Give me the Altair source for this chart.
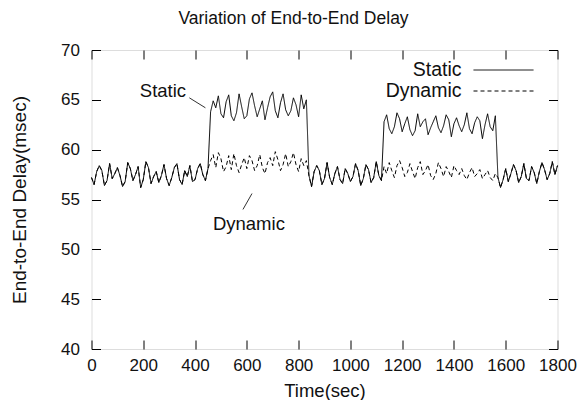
import altair as alt
import pandas as pd

# ---- data (one sample every 10 s) ----
times = list(range(0, 1801, 10))

static_base1 = [57.2, 56.5, 57.8, 58.4, 57.9, 56.4, 56.9, 58.6, 57.1, 57.6,
                58.2, 57.4, 56.3, 56.8, 58.7, 58.1, 56.9, 57.5, 58.3, 56.2,
                57.0, 58.8, 58.2, 56.6, 57.3, 57.8, 56.7, 57.4, 58.5, 57.1,
                56.4, 57.2, 58.2, 58.6, 57.0, 56.5, 57.9, 57.3, 58.4, 56.8,
                57.0, 58.1, 58.6, 57.5, 56.9, 58.1]
static_high1 = [63.8, 64.9, 64.2, 65.4, 63.6, 63.2, 64.8, 65.5, 63.4, 62.9,
                63.7, 65.6, 64.3, 63.1, 63.4, 65.1, 65.7, 64.4, 63.3, 64.1,
                64.9, 63.0, 64.2, 65.3, 65.8, 63.9, 63.2, 64.7, 65.6, 64.0,
                63.4, 63.9, 65.2, 64.5, 63.3, 65.5, 64.1, 65.0]
static_base2 = [57.4, 56.3, 57.8, 58.4, 57.9, 56.5, 57.1, 58.7, 57.2, 56.5,
                57.6, 58.3, 57.0, 56.6, 58.1, 57.6, 56.8, 57.3, 58.6, 57.9,
                56.4, 57.1, 58.5, 58.0, 56.7, 57.2, 58.8, 57.4, 56.9]
static_high2 = [62.8, 63.5, 62.1, 61.6, 62.3, 63.7, 63.1, 61.8, 62.6, 63.3,
                62.0, 61.4, 61.9, 63.6, 62.3, 62.8, 63.1, 61.5, 62.2, 62.8,
                63.4, 62.2, 61.7, 62.4, 63.5, 63.0, 61.3, 62.6, 63.2, 62.4,
                61.8, 62.5, 63.7, 62.1, 61.6, 62.7, 63.3, 62.9, 61.1, 62.5,
                63.6, 62.3, 61.9, 63.4]
static_base3 = [57.2, 56.2, 57.0, 58.1, 56.8, 57.6, 58.5, 57.9, 56.7, 57.3,
                58.6, 57.1, 56.9, 58.3, 57.7, 56.6, 57.8, 58.7, 58.0, 57.0,
                57.6, 58.8, 57.5, 58.4]
dynamic_mid1 = [58.9, 59.5, 58.2, 59.7, 59.1, 57.8, 58.3, 59.4, 58.0, 59.6,
                58.4, 57.7, 58.5, 59.2, 58.1, 59.4, 58.9, 57.9, 58.4, 59.5,
                58.2, 57.6, 58.7, 59.2, 58.4, 59.8, 59.0, 57.9, 58.5, 59.6,
                58.3, 58.8, 59.7, 58.5, 57.8, 59.1, 58.4, 58.9]
dynamic_mid2 = [58.3, 57.6, 58.7, 57.9, 57.2, 58.4, 58.9, 58.2, 57.3, 57.7,
                58.6, 57.8, 57.1, 58.2, 58.8, 57.5, 57.9, 58.5, 57.4, 57.0,
                57.6, 58.7, 58.1, 57.3, 58.3, 57.8, 57.2, 58.4, 57.9, 57.5,
                58.1, 57.4, 57.0, 57.7, 58.2, 57.3, 57.6, 58.0, 57.1, 57.5,
                57.9, 57.2, 56.9, 57.6]

static = static_base1 + static_high1 + static_base2 + static_high2 + static_base3
dynamic = static_base1 + dynamic_mid1 + static_base2 + dynamic_mid2 + static_base3

series_names = ["Static", "Dynamic"]
x_ticks = [0, 200, 400, 600, 800, 1000, 1200, 1400, 1600, 1800]
y_ticks = [40, 45, 50, 55, 60, 65, 70]

# annotation labels (data coordinates)
ann_text = ["Static", "Dynamic"]
ann_t = [276, 608]
ann_v = [65.9, 52.5]
ptr_t1 = [378, 585]
ptr_v1 = [65.2, 54.0]
ptr_t2 = [440, 620]
ptr_v2 = [64.2, 55.6]

df = pd.DataFrame({
    "t": times + times,
    "delay": static + dynamic,
    "series": ["Static"] * len(times) + ["Dynamic"] * len(times),
})
ann_df = pd.DataFrame({"label": ann_text, "t": ann_t, "v": ann_v})
ptr_df = pd.DataFrame({"t1": ptr_t1, "v1": ptr_v1, "t2": ptr_t2, "v2": ptr_v2})

FONT = "Liberation Sans"
TICK = 9

xscale = alt.Scale(domain=[0, 1800], nice=False, zero=False)
yscale = alt.Scale(domain=[40, 70], nice=False, zero=False)

x_bottom = alt.Axis(values=x_ticks, format="d", labelOverlap=False, labelFlush=False,
                    grid=False, domain=False, tickSize=TICK, offset=-TICK,
                    labelPadding=8, labelFontSize=17, titleFontSize=18.5, titlePadding=8,
                    labelFont=FONT, titleFont=FONT, labelColor="#111", titleColor="#111",
                    tickColor="black", titleFontWeight="normal", title="Time(sec)")
y_left = alt.Axis(values=y_ticks, format="d", labelOverlap=False, labelFlush=False,
                  grid=False, domain=False, tickSize=TICK, offset=-TICK,
                  labelPadding=12, labelFontSize=17, titleFontSize=19, titlePadding=31,
                  labelFont=FONT, titleFont=FONT, labelColor="#111", titleColor="#111",
                  tickColor="black", titleFontWeight="normal", title="End-to-End Delay(msec)")
x_top = alt.Axis(orient="top", values=x_ticks, grid=False, domain=False, tickSize=TICK,
                 offset=-TICK, labels=False, title=None, tickColor="black")
y_right = alt.Axis(orient="right", values=y_ticks, grid=False, domain=False, tickSize=TICK,
                   offset=-TICK, labels=False, title=None, tickColor="black")

lines = alt.Chart(df).mark_line(color="black", strokeWidth=1).encode(
    x=alt.X("t:Q", scale=xscale, axis=x_bottom),
    y=alt.Y("delay:Q", scale=yscale, axis=y_left),
    strokeDash=alt.StrokeDash("series:N", scale=alt.Scale(domain=series_names,
                                                           range=[[1, 0], [4, 3]]), legend=None),
    detail="series:N",
)

frame_axes = alt.Chart(df).mark_point(opacity=0).encode(
    x=alt.X("t:Q", scale=xscale, axis=x_top),
    y=alt.Y("delay:Q", scale=yscale, axis=y_right),
)

ann = alt.Chart(ann_df).mark_text(font=FONT, fontSize=18.5, color="#111").encode(
    x=alt.X("t:Q", scale=xscale, axis=None), y=alt.Y("v:Q", scale=yscale, axis=None),
    text="label:N")
ptr = alt.Chart(ptr_df).mark_rule(color="#333", strokeWidth=1).encode(
    x=alt.X("t1:Q", scale=xscale, axis=None), y=alt.Y("v1:Q", scale=yscale, axis=None),
    x2="t2:Q", y2="v2:Q")

# manual legend (top right, inside the frame)
leg_layers = []
dashes = [[1, 0], [4, 3]]
for i, name in enumerate(series_names):
    yy = 20 + 21 * i
    leg_layers.append(alt.Chart(pd.DataFrame({"s": [name]})).mark_text(
        font=FONT, fontSize=19.5, align="right", baseline="middle", color="#111").encode(
        x=alt.value(370), y=alt.value(yy), text="s:N"))
    leg_layers.append(alt.Chart(pd.DataFrame({"s": [name]})).mark_rule(
        color="black", strokeWidth=1, strokeDash=dashes[i]).encode(
        x=alt.value(382), x2=alt.value(442), y=alt.value(yy)))

chart = alt.layer(lines, frame_axes, ann, ptr, *leg_layers).resolve_axis(
    x="independent", y="independent"
).properties(
    width=466, height=299,
    autosize=alt.AutoSizeParams(type="none"),
    padding={"left": 83.5, "top": 42, "right": 19.5, "bottom": 51},
    title=alt.Title("Variation of End-to-End Delay", font=FONT, fontSize=17.5,
                    fontWeight="normal", color="#111", anchor="middle", frame="bounds",
                    offset=14),
).configure_view(stroke="black", strokeWidth=1).configure(background="white")

chart.save("out.html", embed_options={"renderer": "svg", "actions": False})
